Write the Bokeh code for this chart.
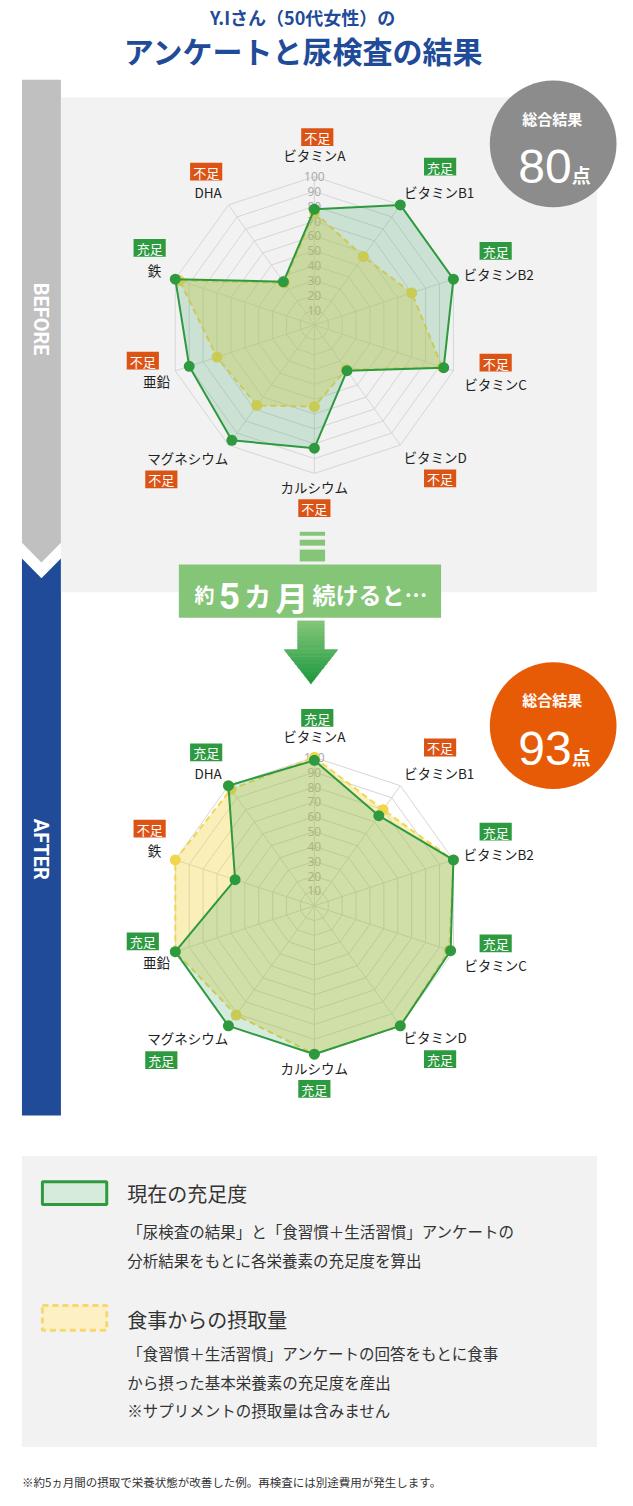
import math
from bokeh.plotting import figure
from bokeh.models import Range1d
from bokeh.core.properties import value
from bokeh.embed import file_html
from bokeh.resources import INLINE

# ---------------- data ----------------
nutrients = ["ビタミンA", "ビタミンB1", "ビタミンB2", "ビタミンC", "ビタミンD",
             "カルシウム", "マグネシウム", "亜鉛", "鉄", "DHA"]
before_current = [78, 100, 100, 93, 38, 83, 96, 90, 100, 36]
before_diet = [76, 57, 70, 92, 37, 55, 67, 70, 97, 35]
before_status = ["不足", "充足", "充足", "不足", "不足", "不足", "不足", "不足", "充足", "不足"]
after_current = [98, 75, 100, 98, 100, 100, 100, 100, 57, 100]
after_diet = [100, 80, 100, 97, 100, 100, 91, 100, 100, 97]
after_status = ["充足", "不足", "充足", "充足", "充足", "充足", "充足", "充足", "不足", "充足"]
ticks = [10, 20, 30, 40, 50, 60, 70, 80, 90, 100]
tick_labels = ["10", "20", "30", "40", "50", "60", "70", "80", "90", "100"]
before_score = "80"
after_score = "93"
score_title = "総合結果"
title1 = "Y.Iさん（50代女性）の"
title2 = "アンケートと尿検査の結果"
legend1_title = "現在の充足度"
legend1_lines = ["「尿検査の結果」と「食習慣＋生活習慣」アンケートの",
                 "分析結果をもとに各栄養素の充足度を算出"]
legend2_title = "食事からの摂取量"
legend2_lines = ["「食習慣＋生活習慣」アンケートの回答をもとに食事",
                 "から摂った基本栄養素の充足度を産出",
                 "※サプリメントの摂取量は含みません"]
footnote = "※約5ヵ月間の摂取で栄養状態が改善した例。再検査には別途費用が発生します。"

# ---------------- styles ----------------
JP = value("Noto Sans CJK JP")
NUM = value("Noto Sans")
BLUE = "#1f4b99"
GREEN = "#2e9a40"
GREEN_FILL = "#3aa66a"
YELLOW = "#f2d650"
RED = "#dc5316"
GRID = "#d6d6d6"
PANEL = "#f2f2f2"
R = 150

p = figure(width=617, height=1490, x_range=Range1d(0, 633), y_range=Range1d(1506, 0),
           output_backend="svg", toolbar_location=None, x_axis_type=None, y_axis_type=None,
           min_border=0, outline_line_color=None, background_fill_color="white")
p.grid.visible = False

# ---------------- background shapes ----------------
p.patch([22, 62, 62, 42, 22], [80, 80, 548, 568, 548], fill_color="#c0c0c0", line_color=None)
p.patch([22, 42, 62, 62, 22], [564, 584, 564, 1127, 1127], fill_color=BLUE, line_color=None)
p.quad(left=[62], right=[612], top=[98], bottom=[598], fill_color=PANEL, line_color=None)
p.text(x=[42], y=[322], text=["BEFORE"], angle=-math.pi / 2, text_align="center",
       text_baseline="middle", text_color="white", text_font=value("Roboto"),
       text_font_style="bold", text_font_size="20px")
p.text(x=[42], y=[858], text=["AFTER"], angle=-math.pi / 2, text_align="center",
       text_baseline="middle", text_color="white", text_font=value("Roboto"),
       text_font_style="bold", text_font_size="20px")

# title
p.text(x=[310], y=[17], text=[title1], text_align="center", text_baseline="middle",
       text_color=BLUE, text_font=JP, text_font_style="bold", text_font_size="18px")
p.text(x=[311], y=[50], text=[title2], text_align="center", text_baseline="middle",
       text_color=BLUE, text_font=JP, text_font_style="bold", text_font_size="30px")

# ---------------- radar ----------------
name_off = [(0, -172), (128, -134), (189, -52), (186, 60), (124, 133),
            (0, 164), (-130, 134), (-162, 57), (-164, -56), (-109, -134)]
badge_off = [(3, -190), (129, -160), (186, -75), (186, 38), (129, 155),
             (0, 185), (-157, 156), (-176, 36), (-169, -78), (-111, -155)]


def radar(cx, cy, current, diet, status):
    n = len(nutrients)
    ang = [2 * math.pi * i / n for i in range(n)]

    def pts(vals):
        xs = [cx + R * v / 100 * math.sin(a) for v, a in zip(vals, ang)]
        ys = [cy - R * v / 100 * math.cos(a) for v, a in zip(vals, ang)]
        return xs, ys

    rx, ry = [], []
    for t in ticks:
        xs, ys = pts([t] * n)
        rx.append(xs + xs[:1])
        ry.append(ys + ys[:1])
    p.multi_line(rx, ry, line_color=GRID, line_width=1)
    ox, oy = pts([100] * n)
    p.segment(x0=[cx] * n, y0=[cy] * n, x1=ox, y1=oy, line_color=GRID, line_width=1)
    p.text(x=[cx] * len(ticks), y=[cy - R * t / 100 for t in ticks], text=tick_labels,
           text_align="center", text_baseline="middle", text_color="#ababab",
           text_font=NUM, text_font_size="12px")

    # diet (yellow) under current (green)
    dx, dy = pts(diet)
    p.patch(dx, dy, fill_color=YELLOW, fill_alpha=0.4, line_color=None)
    p.line(dx + dx[:1], dy + dy[:1], line_color=YELLOW, line_width=2, line_dash="6 4")
    p.scatter(dx, dy, size=11, fill_color=YELLOW, line_color=None)

    gx, gy = pts(current)
    p.patch(gx, gy, fill_color=GREEN_FILL, fill_alpha=0.22, line_color=None)
    p.line(gx + gx[:1], gy + gy[:1], line_color=GREEN, line_width=2)
    p.scatter(gx, gy, size=11, fill_color=GREEN, line_color=None)

    # labels
    p.text(x=[cx + o[0] for o in name_off], y=[cy + o[1] for o in name_off], text=nutrients,
           text_align="center", text_baseline="middle", text_color="#222222",
           text_font=JP, text_font_size="13.5px")
    bcol = [RED if s == "不足" else GREEN for s in status]
    bx = [cx + o[0] for o in badge_off]
    by = [cy + o[1] for o in badge_off]
    p.rect(x=bx, y=by, width=33, height=18, fill_color=bcol, line_color=None)
    p.text(x=bx, y=[v + 0.5 for v in by], text=status, text_align="center", text_baseline="middle",
           text_color="white", text_font=JP, text_font_size="13px")


radar(322, 328, before_current, before_diet, before_status)
radar(322, 915, after_current, after_diet, after_status)


# ---------------- score circles ----------------
def score(cx, cy, color, num):
    p.circle(x=[cx], y=[cy], radius=65, fill_color=color, line_color=None)
    p.text(x=[cx - 1], y=[cy - 26], text=[score_title], text_align="center", text_baseline="middle",
           text_color="white", text_font=JP, text_font_style="bold", text_font_size="15px")
    p.text(x=[cx + 19], y=[cy + 23], text=[num], text_align="right", text_baseline="alphabetic",
           text_color="white", text_font=value("Liberation Sans"), text_font_size="48px")
    p.text(x=[cx + 19], y=[cy + 31], text=["点"], text_align="left", text_baseline="alphabetic",
           text_color="white", text_font=JP, text_font_style="bold", text_font_size="19px")


score(567, 145, "#8c8c8c", before_score)
score(567, 733, "#e85b06", after_score)

# ---------------- middle connector ----------------
MID_GREEN = "#84c578"
p.quad(left=[307, 307, 307], right=[333, 333, 333], top=[537, 545, 555], bottom=[541, 551, 567],
       fill_color=MID_GREEN, line_color=None)
p.quad(left=[183], right=[452], top=[570], bottom=[624], fill_color=MID_GREEN, line_color=None)
p.text(x=[199], y=[600], text=["約"], text_align="left", text_baseline="alphabetic",
       text_color="white", text_font=JP, text_font_style="bold", text_font_size="20px")
p.text(x=[224], y=[602], text=["5"], text_align="left", text_baseline="alphabetic",
       text_color="white", text_font=value("Roboto"), text_font_style="bold", text_font_size="37px")
p.text(x=[250], y=[601], text=["カ"], text_align="left", text_baseline="alphabetic",
       text_color="white", text_font=JP, text_font_style="bold", text_font_size="27px")
p.text(x=[282], y=[603], text=["月"], text_align="left", text_baseline="alphabetic",
       text_color="white", text_font=JP, text_font_style="bold", text_font_size="33px")
p.text(x=[320], y=[600], text=["続けると…"], text_align="left", text_baseline="alphabetic",
       text_color="white", text_font=JP, text_font_style="bold", text_font_size="23px")

# gradient arrow made of bands
ax, a_top, a_neck, a_tip, shaft_hw, head_hw = 318.5, 627, 656, 691, 14, 28
c0 = (0x86, 0xc7, 0x7b)
c1 = (0x1b, 0x98, 0x3e)
nb = 16


def hw_at(y):
    if y <= a_neck:
        return shaft_hw
    return head_hw * (a_tip - y) / (a_tip - a_neck)


edges = [a_top + (a_tip - a_top) * k / nb for k in range(nb + 1)]
if a_neck not in edges:
    edges = sorted(edges + [a_neck])
for k in range(len(edges) - 1):
    y0, y1 = edges[k], edges[k + 1]
    w0 = shaft_hw if y0 < a_neck else hw_at(y0)
    if y0 == a_neck:
        w0 = head_hw
    w1 = shaft_hw if y1 <= a_neck else hw_at(y1)
    t = (y0 + y1) / 2
    f = (t - a_top) / (a_tip - a_top)
    col = "#%02x%02x%02x" % tuple(int(c0[i] + (c1[i] - c0[i]) * f) for i in range(3))
    p.patch([ax - w0, ax + w0, ax + w1, ax - w1], [y0 - 0.3, y0 - 0.3, y1 + 0.3, y1 + 0.3],
            fill_color=col, line_color=None)

# ---------------- legend panel ----------------
p.quad(left=[22], right=[612], top=[1168], bottom=[1462], fill_color=PANEL, line_color=None)
p.quad(left=[43], right=[109], top=[1194], bottom=[1217], fill_color="#d6ebdb",
       line_color=GREEN, line_width=3)
p.quad(left=[43], right=[109], top=[1319], bottom=[1344], fill_color="#fdf0c4",
       line_color="#f7d86a", line_width=3, line_dash="6 4")
p.text(x=[130], y=[1206], text=[legend1_title], text_align="left", text_baseline="middle",
       text_color="#333333", text_font=JP, text_font_size="20px")
p.text(x=[130] * 2, y=[1244, 1273], text=legend1_lines, text_align="left", text_baseline="middle",
       text_color="#333333", text_font=JP, text_font_size="15.5px")
p.text(x=[130], y=[1333], text=[legend2_title], text_align="left", text_baseline="middle",
       text_color="#333333", text_font=JP, text_font_size="20px")
p.text(x=[130] * 3, y=[1367, 1396, 1425], text=legend2_lines, text_align="left",
       text_baseline="middle", text_color="#333333", text_font=JP, text_font_size="15.5px")

p.text(x=[22], y=[1497], text=[footnote], text_align="left", text_baseline="middle",
       text_color="#333333", text_font=JP, text_font_size="11.5px")

open("out.html", "w").write(file_html(p, INLINE))
